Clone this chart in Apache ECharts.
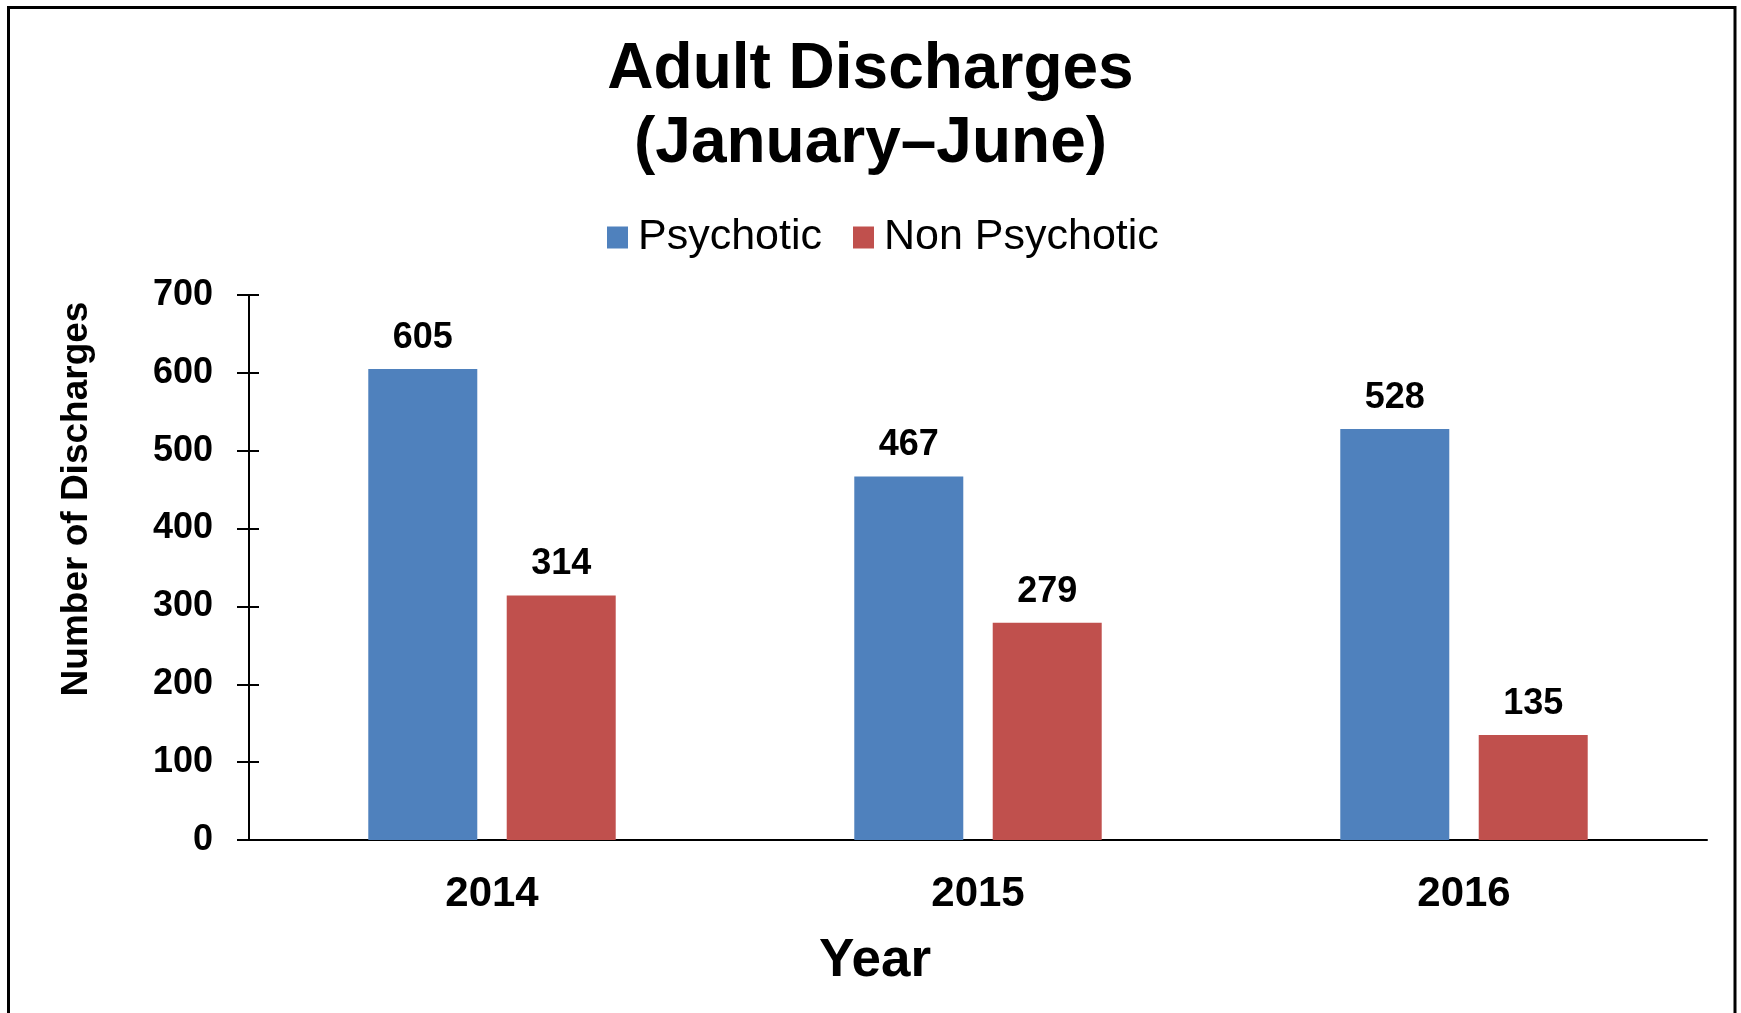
<!DOCTYPE html>
<html>
<head>
<meta charset="utf-8">
<style>
  html, body { margin: 0; padding: 0; background: #ffffff; }
  #chart { width: 1741px; height: 1013px; }
</style>
<script src="https://cdn.jsdelivr.net/npm/echarts@6/dist/echarts.min.js"></script>
</head>
<body>
<div id="chart"></div>
<script>
const years = ['2014', '2015', '2016'];
const psychotic = [605, 467, 528];
const nonPsychotic = [314, 279, 135];
const seriesNames = ['Psychotic', 'Non Psychotic'];
const titleText = 'Adult Discharges\n(January\u2013June)';
const xName = 'Year';
const yName = 'Number of Discharges';

const FONT = '"Liberation Sans", Arial, sans-serif';
const chart = echarts.init(document.getElementById('chart'), null, { renderer: 'canvas' });

const option = {
  backgroundColor: '#ffffff',
  animation: false,
  title: {
    text: titleText,
    left: 'center',
    top: 33,
    padding: 0,
    textStyle: { fontFamily: FONT, fontSize: 64, fontWeight: 'bold', color: '#000', lineHeight: 74.5 }
  },
  legend: {
    data: seriesNames,
    left: 607,
    top: 216,
    padding: 0,
    itemWidth: 21,
    itemHeight: 22,
    itemGap: 31,
    icon: 'rect',
    textStyle: { fontFamily: FONT, fontSize: 43, color: '#000', padding: [0, 0, 0, 5] }
  },
  grid: { left: 249, right: 34, top: 295, bottom: 173, containLabel: false },
  xAxis: {
    type: 'category',
    data: years,
    axisLine: { lineStyle: { color: '#000', width: 2 } },
    axisTick: { show: false },
    axisLabel: { fontFamily: FONT, fontSize: 42, fontWeight: 'bold', color: '#000', margin: 33 }
  },
  yAxis: [
    {
      type: 'value', min: 0, max: 700, interval: 100,
      axisLine: { show: true, lineStyle: { color: '#000', width: 2 } },
      axisTick: { show: true, inside: false, length: 12, lineStyle: { color: '#000', width: 2 } },
      splitLine: { show: false },
      axisLabel: { fontFamily: FONT, fontSize: 36, fontWeight: 'bold', color: '#000', margin: 36, padding: [5, 0, 0, 0] }
    },
    {
      type: 'value', min: 0, max: 700, interval: 100, position: 'left',
      axisLine: { show: false },
      axisTick: { show: true, inside: true, length: 10, lineStyle: { color: '#000', width: 2 } },
      splitLine: { show: false },
      axisLabel: { show: false }
    }
  ],
  series: [
    {
      name: seriesNames[0], type: 'bar', data: psychotic,
      barWidth: 109, barGap: '27%',
      itemStyle: { color: '#4F81BD' },
      label: { show: true, position: 'top', distance: 13, fontFamily: FONT, fontSize: 36, fontWeight: 'bold', color: '#000' }
    },
    {
      name: seriesNames[1], type: 'bar', data: nonPsychotic,
      barWidth: 109,
      itemStyle: { color: '#C0504D' },
      label: { show: true, position: 'top', distance: 13, fontFamily: FONT, fontSize: 36, fontWeight: 'bold', color: '#000' }
    }
  ],
  graphic: [
    {
      type: 'rect', silent: true, z: 100,
      shape: { x: 8.5, y: 7.5, width: 1726.5, height: 1030 },
      style: { fill: 'none', stroke: '#000', lineWidth: 3 }
    },
    {
      type: 'text', silent: true,
      x: 875, y: 961.5,
      style: { text: xName, font: 'bold 53px ' + FONT, fill: '#000', align: 'center', verticalAlign: 'middle' }
    },
    {
      type: 'text', silent: true,
      x: 77, y: 499, rotation: Math.PI / 2,
      style: { text: yName, font: 'bold 37px ' + FONT, fill: '#000', align: 'center', verticalAlign: 'middle' }
    }
  ]
};
chart.setOption(option);
</script>
</body>
</html>
